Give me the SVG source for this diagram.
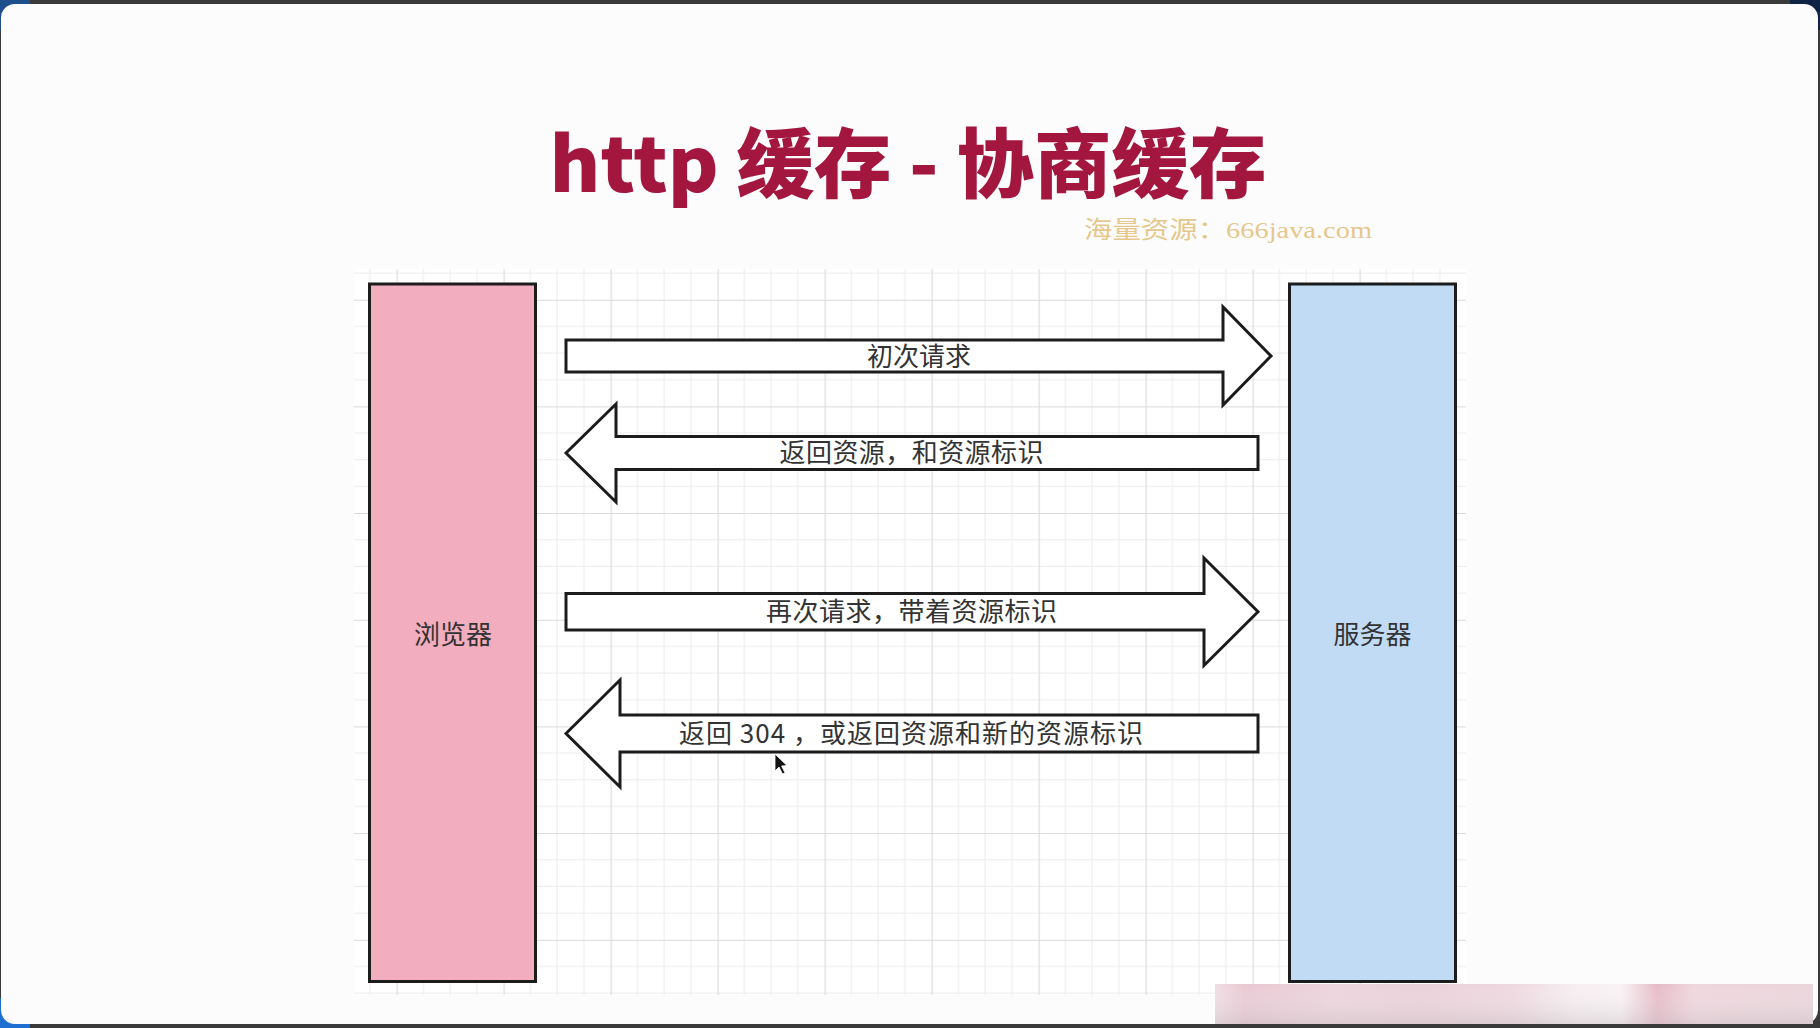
<svg xmlns="http://www.w3.org/2000/svg" width="1820" height="1028" viewBox="0 0 1820 1028">
  <defs>
    <style>
      .lbl { font-family: "Noto Sans CJK SC", "Noto Sans", sans-serif; font-size: 26px; fill: #333333; text-anchor: middle; }
      .arrow { fill: #ffffff; stroke: #1c1c1c; stroke-width: 3; stroke-linejoin: miter; }
      .box { stroke: #1c1c1c; stroke-width: 3; }
    </style>
    <pattern id="gridPat" patternUnits="userSpaceOnUse" x="396.6" y="299.7" width="107" height="106.68">
      <path d="M26.75,0V106.68M53.5,0V106.68M80.25,0V106.68M0,26.67H107M0,53.34H107M0,80.01H107" stroke="#ebebeb" stroke-width="1" fill="none"/>
      <path d="M0.5,0V106.68M0,0.5H107" stroke="#dadada" stroke-width="1.2" fill="none"/>
    </pattern>
    <linearGradient id="stripGrad" x1="0" y1="0" x2="1" y2="0">
      <stop offset="0" stop-color="#efdde3"/>
      <stop offset="0.05" stop-color="#e9c8d2"/>
      <stop offset="0.2" stop-color="#ecd3db"/>
      <stop offset="0.35" stop-color="#ead0d8"/>
      <stop offset="0.5" stop-color="#eed8df"/>
      <stop offset="0.6" stop-color="#f6eef1"/>
      <stop offset="0.68" stop-color="#f8f2f4"/>
      <stop offset="0.74" stop-color="#e6b9c6"/>
      <stop offset="0.8" stop-color="#efd6dd"/>
      <stop offset="1" stop-color="#e9d4da"/>
    </linearGradient>
    <linearGradient id="stripShade" x1="0" y1="0" x2="0" y2="1">
      <stop offset="0" stop-color="#ffffff" stop-opacity="0"/>
      <stop offset="1" stop-color="#c8c0c4" stop-opacity="0.45"/>
    </linearGradient>
  </defs>

  <g id="frame">
    <rect x="0" y="0" width="1820" height="1028" fill="#3a3a3a"/>
    <rect x="0" y="0" width="30" height="30" fill="#1f4e8c"/>
    <rect x="1790" y="0" width="30" height="30" fill="#0e2345"/>
    <rect x="0" y="998" width="30" height="30" fill="#1f6fd2"/>
    <rect x="1" y="4" width="1817" height="1020" rx="14" ry="14" fill="#fdfcfd"/>
  </g>

  <g id="grid">
    <rect x="354" y="269" width="1112" height="726" fill="#ffffff"/>
    <rect x="354" y="269" width="1112" height="726" fill="url(#gridPat)"/>
  </g>

  <g id="title">
    <text x="908" y="192" font-family="'Noto Sans CJK SC', 'Noto Sans', sans-serif" font-size="76" font-weight="900" fill="#a3173f" text-anchor="middle" textLength="717" lengthAdjust="spacingAndGlyphs">http 缓存 - 协商缓存</text>
    <text x="1228" y="238" font-family="'Liberation Serif', 'Noto Sans CJK SC', serif" font-size="24" fill="#e2c07c" fill-opacity="0.9" text-anchor="middle" textLength="288" lengthAdjust="spacingAndGlyphs">海量资源：666java.com</text>
  </g>

  <g id="browser">
    <rect class="box" x="369.5" y="284" width="166" height="697.5" fill="#f2adbe"/>
    <text class="lbl" x="453" y="644">浏览器</text>
  </g>

  <g id="server">
    <rect class="box" x="1289.5" y="284" width="166" height="697.5" fill="#c1dbf5"/>
    <text class="lbl" x="1372.5" y="644">服务器</text>
  </g>

  <g id="connectors">
    <g id="arrow1">
      <path class="arrow" d="M566,340 H1223 V307 L1271,356 L1223,405 V372 H566 Z"/>
      <text class="lbl" x="919" y="366" textLength="104" lengthAdjust="spacing">初次请求</text>
    </g>
    <g id="arrow2">
      <path class="arrow" d="M566,453 L616,404 V436.5 H1258 V469.5 H616 V502 Z"/>
      <text class="lbl" x="911.5" y="462" textLength="264" lengthAdjust="spacing">返回资源，和资源标识</text>
    </g>
    <g id="arrow3">
      <path class="arrow" d="M566,593.5 H1204 V558 L1258,611.75 L1204,665.5 V630 H566 Z"/>
      <text class="lbl" x="911.5" y="621" textLength="291" lengthAdjust="spacing">再次请求，带着资源标识</text>
    </g>
    <g id="arrow4">
      <path class="arrow" d="M566,733.5 L620,680 V715 H1258 V752 H620 V787 Z"/>
      <text class="lbl" x="911" y="742.5" textLength="464" lengthAdjust="spacing">返回 304 ，或返回资源和新的资源标识</text>
    </g>
  </g>

  <g id="cursor">
    <path d="M775,754 L775,771 L779,767 L782.5,774 L785,772.8 L781.6,766 L787,765.6 Z" fill="#111111" stroke="#ffffff" stroke-width="0.8"/>
  </g>

  <g id="overlay">
    <rect x="1215" y="984" width="598" height="40" fill="url(#stripGrad)"/>
    <rect x="1215" y="984" width="598" height="40" fill="url(#stripShade)"/>
  </g>
</svg>
